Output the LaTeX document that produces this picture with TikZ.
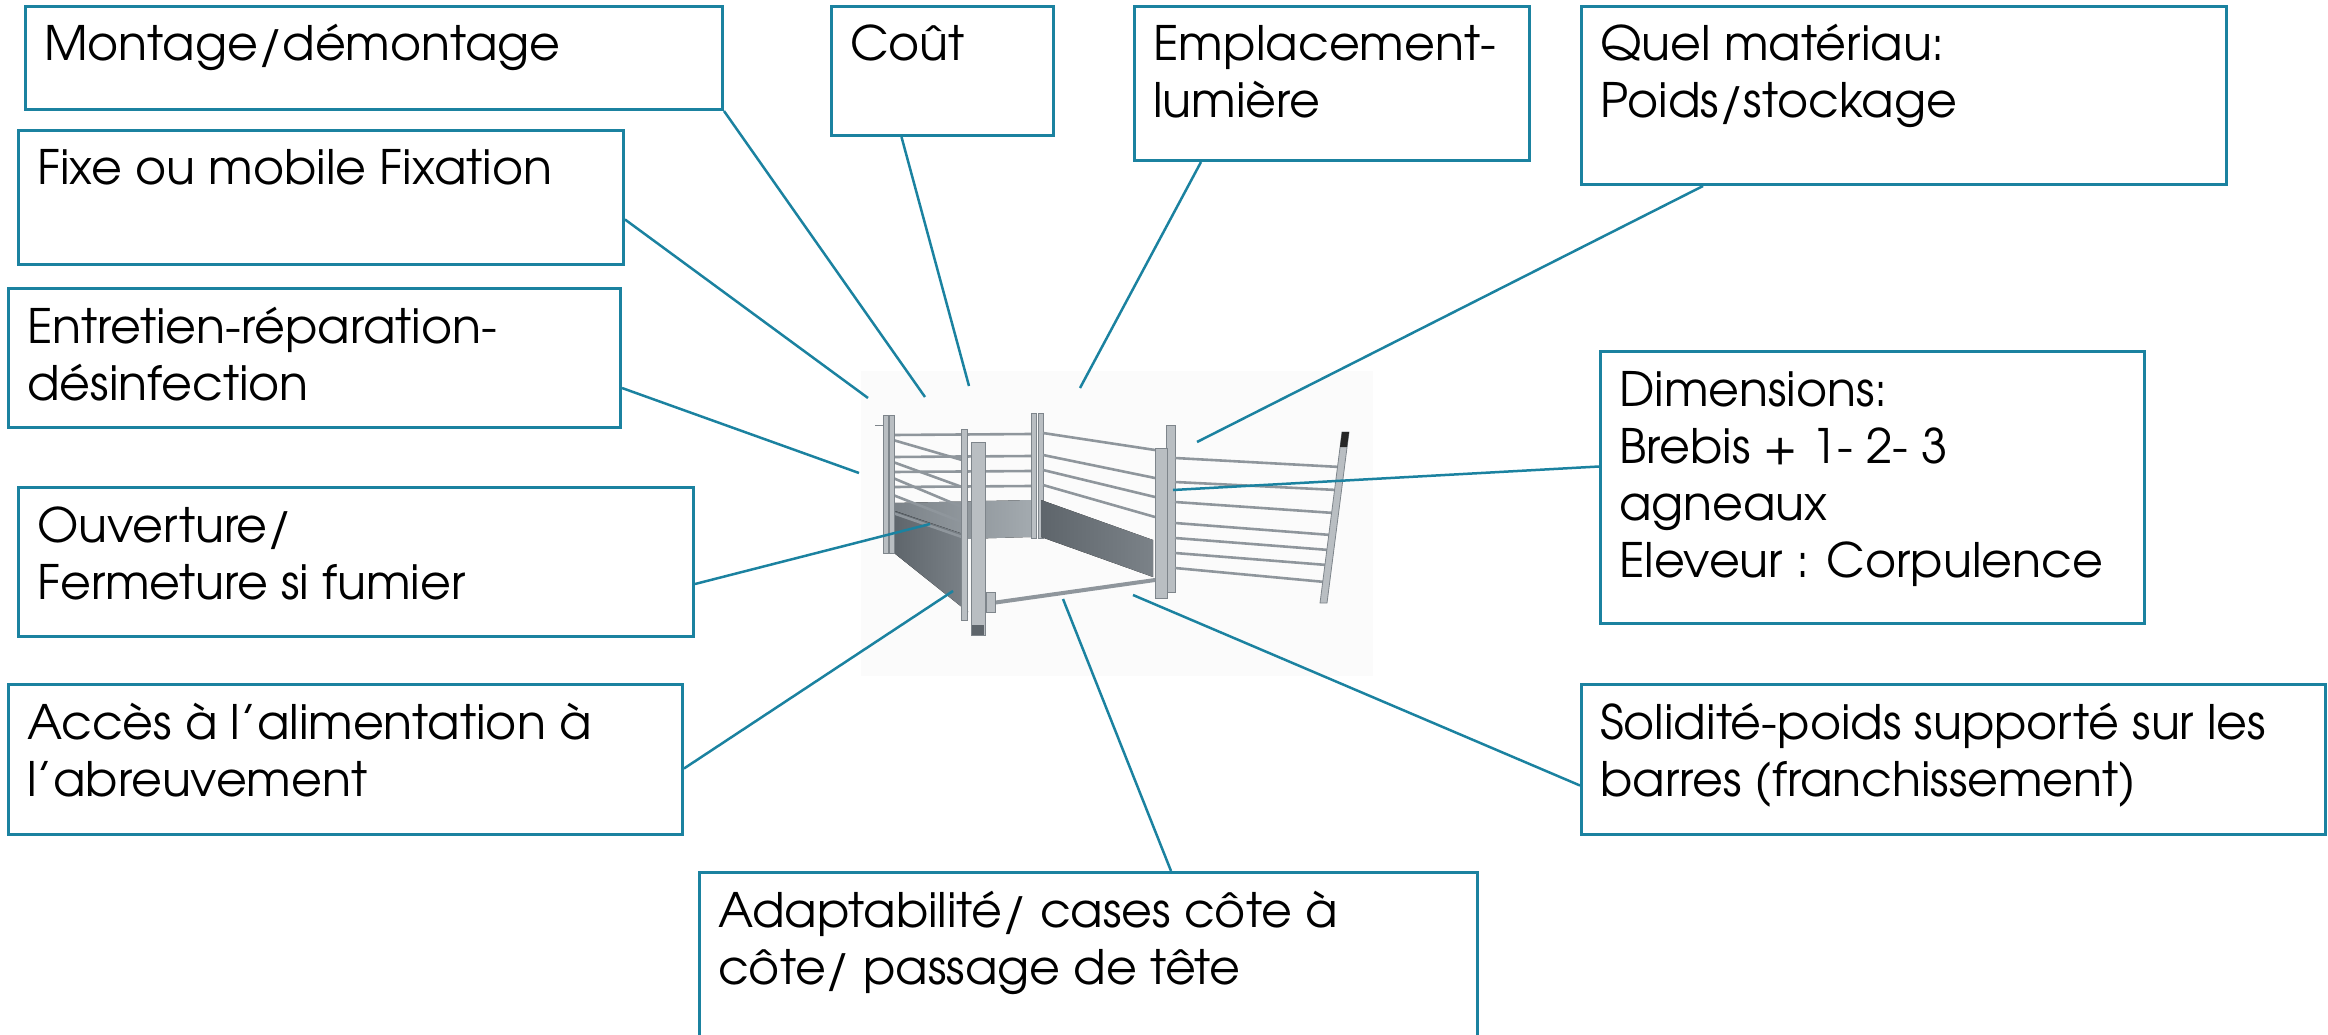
\documentclass[tikz,border=0pt]{standalone}
\usepackage{fontspec}
\setmainfont{TeX Gyre Adventor}
\definecolor{tealline}{HTML}{1B82A0}
\definecolor{postfill}{HTML}{B9BEC2}
\definecolor{postdraw}{HTML}{7E858B}
\definecolor{railc}{HTML}{8F969C}
\definecolor{sheetdark}{HTML}{5E656B}
\definecolor{sheetmid}{HTML}{7B8288}
\definecolor{sheetlight}{HTML}{A3AAAF}
\definecolor{photobg}{HTML}{FBFBFB}
\begin{document}
\begin{tikzpicture}[x=1pt,y=-1pt,
  box/.style={draw=tealline, line width=3pt, rectangle, inner sep=0pt, anchor=north west},
  lbl/.style={anchor=base west, align=left, inner sep=0pt, font=\fontsize{47.5}{57}\selectfont},
  conn/.style={draw=tealline, line width=2.5pt},
  rail/.style={draw=railc, line width=2.6pt},
  post/.style={fill=postfill, draw=postdraw, line width=0.8pt}]
\useasboundingbox (0,0) rectangle (2328,1035);

% ---------- photo of the pen ----------
\fill[photobg] (861,371) rectangle (1373,676);
% back sheet
\fill[left color=sheetmid, right color=sheetlight] (893,503) -- (1031,500) -- (1031,537) -- (893,541) -- cycle;
% back rails
\foreach \yy in {435,457,472,487} \draw[rail] (893,\yy) -- (1031,\yy-1);
% left side sheet
\fill[left color=sheetdark, right color=sheetmid] (892,510) -- (966,535) -- (968,612) -- (894,553) -- cycle;
% left side rails
\foreach \ya/\yb in {440/460,462/487,478/507,495/522,513/537} \draw[rail] (893,\ya) -- (962,\yb);
% back-left post
\draw[post] (883,415) rectangle (888,553);
\draw[post] (889,415) rectangle (894,553);
\draw[postdraw, line width=1pt] (875,425) -- (883,425);
% back-right post
\draw[post] (1031,413) rectangle (1036,538);
\draw[post] (1038,413) rectangle (1043,538);
% right side sheet
\fill[left color=sheetdark, right color=sheetmid] (1041,500) -- (1153,540) -- (1153,577) -- (1041,537) -- cycle;
% right side rails
\foreach \ya/\yb in {433/450,455/478,470/497,485/517} \draw[rail] (1043,\ya) -- (1155,\yb);
% left front inner post
\draw[post] (961,429) rectangle (967,620);
% floor bar
\draw[draw=railc, line width=4pt] (985,604) -- (1155,580);
% big front post
\draw[post] (971,442) rectangle (985,635);
\fill[sheetdark] (972,625) rectangle (984,635);
\draw[post] (986,592) rectangle (995,612);
% right front posts
\draw[post] (1166,425) rectangle (1175,592);
\draw[post] (1155,448) rectangle (1167,598);
% gate rails
\foreach \ya/\yb/\xb in {458/467/1340,482/490/1337,502/513/1334,523/535/1331,538/550/1329,553/565/1327,568/582/1325}
  \draw[rail] (1175,\ya) -- (\xb,\yb);
% gate end post
\fill[postfill, draw=postdraw, line width=0.8pt] (1342,432) -- (1349,432) -- (1327,603) -- (1320,603) -- cycle;
\fill[black!85] (1342,432) -- (1349,432) -- (1347,447) -- (1340,447) -- cycle;

% ---------- boxes ----------
\node[box, minimum width=697pt, minimum height=103pt] (montage) at (24,5) {};
\node[box, minimum width=222pt, minimum height=129pt] (cout) at (830,5) {};
\node[box, minimum width=395pt, minimum height=154pt] (empl) at (1133,5) {};
\node[box, minimum width=645pt, minimum height=178pt] (quel) at (1580,5) {};
\node[box, minimum width=605pt, minimum height=134pt] (fixe) at (17,129) {};
\node[box, minimum width=612pt, minimum height=139pt] (entr) at (7,287) {};
\node[box, minimum width=675pt, minimum height=149pt] (ouv) at (17,486) {};
\node[box, minimum width=674pt, minimum height=150pt] (acces) at (7,683) {};
\node[box, minimum width=778pt, minimum height=220pt] (adapt) at (698,871) {};
\node[box, minimum width=544pt, minimum height=272pt] (dim) at (1599,350) {};
\node[box, minimum width=744pt, minimum height=150pt] (solid) at (1580,683) {};

% ---------- texts (base = last line's baseline) ----------
\node[lbl] (tmontage) at (44,61) {Montage/démontage};
\node[lbl] (tcout) at (850,61) {Coût};
\node[lbl] (templ) at (1153,118) {Emplacement-\\lumière};
\node[lbl] (tquel) at (1600,118) {Quel matériau:\\Poids/stockage};
\node[lbl] (tfixe) at (37,185) {Fixe ou mobile Fixation};
\node[lbl] (tentr) at (27,400) {Entretien-réparation-\\désinfection};
\node[lbl] (touv) at (37,599) {Ouverture/\\Fermeture si fumier};
\node[lbl] (tacces) at (27,796) {Accès à l’alimentation à\\l’abreuvement};
\node[lbl] (tadapt) at (718,984) {Adaptabilité/ cases côte à\\côte/ passage de tête};
\node[lbl] (tdim) at (1619,577) {Dimensions:\\Brebis + 1- 2- 3\\agneaux\\Eleveur : Corpulence};
\node[lbl] (tsolid) at (1600,796) {Solidité-poids supporté sur les\\barres (franchissement)};

% ---------- connector ends ----------
\coordinate (eMontage) at (925,397);
\coordinate (eCout) at (969,386);
\coordinate (eEmpl) at (1080,388);
\coordinate (eQuel) at (1197,442);
\coordinate (eFixe) at (868,398);
\coordinate (eEntr) at (859,473);
\coordinate (eOuv) at (930,524);
\coordinate (eAcces) at (953,591);
\coordinate (eAdapt) at (1063,599);
\coordinate (eDim) at (1173,490);
\coordinate (eSolid) at (1133,595);

\draw[conn] (montage.south east) -- (eMontage);
\draw[conn] ([xshift=-41pt]cout.south) -- (eCout);
\draw[conn] ([xshift=68pt]empl.south west) -- (eEmpl);
\draw[conn] ([xshift=123pt]quel.south west) -- (eQuel);
\draw[conn] ([yshift=-22pt]fixe.east) -- (eFixe);
\draw[conn] ([yshift=-30pt]entr.east) -- (eEntr);
\draw[conn] ([yshift=-22pt]ouv.east) -- (eOuv);
\draw[conn] ([yshift=-9pt]acces.east) -- (eAcces);
\draw[conn] ([xshift=473pt]adapt.north west) -- (eAdapt);
\draw[conn] ([yshift=21pt]dim.west) -- (eDim);
\draw[conn] ([yshift=-26pt]solid.west) -- (eSolid);
\end{tikzpicture}
\end{document}
